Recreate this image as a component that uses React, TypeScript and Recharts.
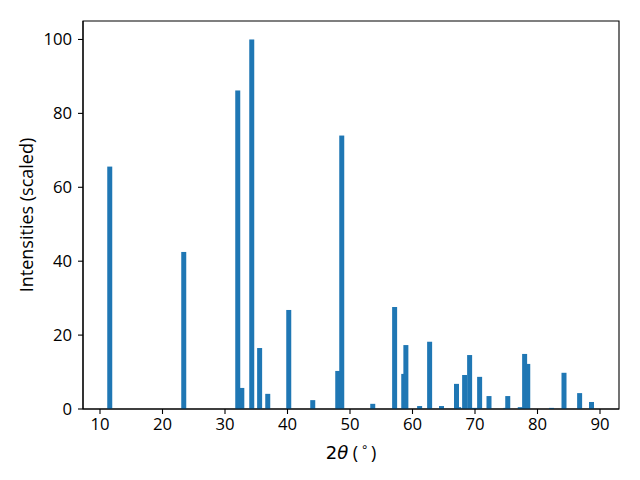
import { BarChart, Bar, XAxis, YAxis, ReferenceArea } from "recharts";

// peak positions (2θ, degrees) and scaled intensities
const twoTheta = [
  11.52, 23.36, 32.0, 32.65, 34.24, 35.5, 36.8, 40.16, 44.0, 48.0, 48.64,
  53.6, 57.1, 58.56, 58.9, 61.1, 62.7, 64.6, 67.0, 67.35, 68.3, 69.1, 69.9,
  70.7, 72.2, 74.9, 75.2, 77.2, 77.9, 78.4, 82.2, 84.2, 86.7, 88.6,
];
const intensity = [
  65.6, 42.5, 86.2, 5.7, 100, 16.5, 4.1, 26.8, 2.4, 10.3, 74.0,
  1.4, 27.6, 9.5, 17.3, 0.8, 18.2, 0.8, 6.8, 0.5, 9.2, 14.6, 0.3,
  8.7, 3.5, 0.3, 3.5, 0.5, 14.9, 12.2, 0.3, 9.8, 4.3, 1.9,
];
const xTicks = [10, 20, 30, 40, 50, 60, 70, 80, 90];
const yTicks = [0, 20, 40, 60, 80, 100];

const data = twoTheta.map((t, i) => ({ t, v: intensity[i] }));

const FONT = "Open Sans";
const MATH_FONT = "DejaVu Sans";
const FS = 16.7;
const LABEL_FS = 18;
const BLUE = "#1f77b4";
const X_DOMAIN: [number, number] = [7.28, 93.04];
const Y_DOMAIN: [number, number] = [0, 105];
const BAR_PX = 5; // 0.8° wide bars

const tickStyle = { fontSize: FS, fill: "#000", fontFamily: FONT };

function PeakBar(props: any) {
  const w = props.width || 0;
  const cx = props.x + w / 2;
  if (props.height == null || props.height <= 0) return null;
  return (
    <rect x={cx - BAR_PX / 2} y={props.y} width={BAR_PX} height={props.height} fill={BLUE} />
  );
}

function XLabel(props: any) {
  const vb = props.viewBox || { x: 83, y: 409, width: 536, height: 71 };
  return (
    <text
      x={vb.x + vb.width / 2}
      y={vb.y + 43}
      textAnchor="middle"
      dominantBaseline="central"
      fontFamily={FONT}
      fontSize={LABEL_FS}
      fill="#000"
    >
      <tspan fontFamily={MATH_FONT}>2</tspan>
      <tspan fontFamily={MATH_FONT} fontStyle="italic">θ</tspan>
      <tspan>{" ("}</tspan>
      <tspan fontFamily={MATH_FONT} fontSize={12.5} dy={-6}>{"\u2009∘\u2009"}</tspan>
      <tspan dy={6}>)</tspan>
    </text>
  );
}

function YLabel(props: any) {
  const vb = props.viewBox || { x: 0, y: 21, width: 83, height: 388 };
  const x = vb.x + 26;
  const y = vb.y + vb.height / 2;
  return (
    <text
      x={x}
      y={y}
      transform={`rotate(-90, ${x}, ${y})`}
      textAnchor="middle"
      dominantBaseline="central"
      fontFamily={FONT}
      fontSize={LABEL_FS}
      fill="#000"
    >
      Intensities (scaled)
    </text>
  );
}

export default function App() {
  return (
    <div style={{ position: "absolute", left: 0, top: 0, width: 640, height: 480, background: "#fff" }}>
      <BarChart
        width={640}
        height={480}
        data={data}
        margin={{ top: 21, right: 21, bottom: 0, left: 0 }}
      >
        <XAxis
          dataKey="t"
          type="number"
          domain={X_DOMAIN}
          ticks={xTicks}
          allowDataOverflow
          height={71}
          tick={tickStyle}
          tickSize={5}
          tickMargin={4}
          axisLine={{ stroke: "#000", strokeWidth: 1.1 }}
          tickLine={{ stroke: "#000", strokeWidth: 1.1 }}
          label={<XLabel />}
        />
        <YAxis
          type="number"
          domain={Y_DOMAIN}
          ticks={yTicks}
          allowDataOverflow
          width={83}
          tick={tickStyle}
          tickSize={5}
          tickMargin={6}
          axisLine={{ stroke: "#000", strokeWidth: 1.1 }}
          tickLine={{ stroke: "#000", strokeWidth: 1.1 }}
          label={<YLabel />}
        />
        <Bar dataKey="v" fill={BLUE} shape={<PeakBar />} isAnimationActive={false} />
        <ReferenceArea
          x1={X_DOMAIN[0]}
          x2={X_DOMAIN[1]}
          y1={Y_DOMAIN[0]}
          y2={Y_DOMAIN[1]}
          fill="none"
          fillOpacity={0}
          stroke="#000"
          strokeWidth={1.1}
          strokeOpacity={1}
          ifOverflow="visible"
        />
      </BarChart>
    </div>
  );
}
